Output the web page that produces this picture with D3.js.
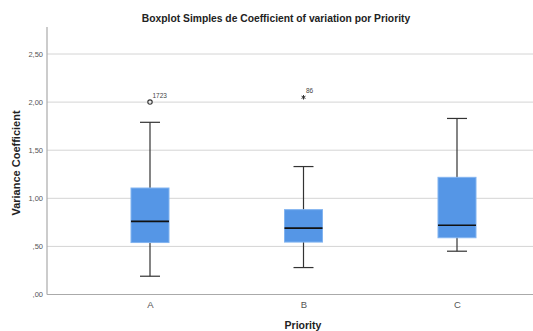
<!DOCTYPE html>
<html>
<head>
<meta charset="utf-8">
<script src="https://cdn.jsdelivr.net/npm/d3@7"></script>
<style>
  html, body { margin: 0; padding: 0; background: #fff; }
  svg { display: block; font-family: Arial, "Liberation Sans", sans-serif; }
</style>
</head>
<body>
<svg id="chart" width="533" height="331"></svg>
<script>
// Box statistics per priority group
const categories = ["A", "B", "C"];
const lowerWhisker = [0.19, 0.28, 0.45];
const q1 = [0.54, 0.545, 0.59];
const median = [0.76, 0.69, 0.72];
const q3 = [1.107, 0.882, 1.218];
const upperWhisker = [1.79, 1.33, 1.83];

// Outliers: mild (circle) and extreme (star), with case labels
const outlierCategory = ["A", "B"];
const outlierValue = [2.0, 2.05];
const outlierKind = ["mild", "extreme"];
const outlierLabel = ["1723", "86"];

const yTicks = [0, 0.5, 1.0, 1.5, 2.0, 2.5];

(function () {
const svg = d3.select("#chart");
const W = 533;
const plotLeft = 47, plotBottom = 294.5, plotTop = 27;

const y = d3.scaleLinear().domain([0, 2.5]).range([plotBottom, 54]);
const x = d3.scalePoint().domain(categories).range([150, 457]);

const fmt = v => {
  const s = d3.format(".2f")(v).replace(".", ",");
  return v < 1 ? s.replace(/^0/, "") : s;
};

// Title
svg.append("text")
  .attr("x", 276).attr("y", 22)
  .attr("text-anchor", "middle")
  .attr("font-size", 10.3).attr("font-weight", "bold")
  .attr("fill", "#222")
  .text("Boxplot Simples de Coefficient of variation por Priority");

// Gridlines
svg.append("g").selectAll("line")
  .data(yTicks.filter(d => d > 0))
  .join("line")
  .attr("x1", plotLeft).attr("x2", W)
  .attr("y1", d => y(d)).attr("y2", d => y(d))
  .attr("stroke", "#d4d4d4").attr("stroke-width", 1);

// Y axis
const yAxis = d3.axisLeft(y).tickValues(yTicks).tickFormat(fmt).tickSize(0).tickPadding(4);
const gy = svg.append("g").attr("transform", `translate(${plotLeft},0)`).call(yAxis);
gy.select(".domain").remove();
gy.selectAll("text").attr("font-size", 7.5).attr("fill", "#555").attr("font-family", "Arial, 'Liberation Sans', sans-serif");
svg.append("line")
  .attr("x1", plotLeft).attr("x2", plotLeft).attr("y1", plotTop).attr("y2", plotBottom)
  .attr("stroke", "#aaa").attr("stroke-width", 1.2);

// X axis
const xAxis = d3.axisBottom(x).tickSize(0).tickPadding(7);
const gx = svg.append("g").attr("transform", `translate(0,${plotBottom})`).call(xAxis);
gx.select(".domain").remove();
gx.selectAll("text").attr("font-size", 9.5).attr("fill", "#555").attr("font-family", "Arial, 'Liberation Sans', sans-serif");
svg.append("line")
  .attr("x1", plotLeft).attr("x2", W).attr("y1", plotBottom).attr("y2", plotBottom)
  .attr("stroke", "#aaa").attr("stroke-width", 1.2);

// Axis titles
svg.append("text")
  .attr("transform", `translate(20,163) rotate(-90)`)
  .attr("text-anchor", "middle")
  .attr("font-size", 11).attr("font-weight", "bold").attr("fill", "#222")
  .text("Variance Coefficient");
svg.append("text")
  .attr("x", 303).attr("y", 328.5)
  .attr("text-anchor", "middle")
  .attr("font-size", 10.5).attr("font-weight", "bold").attr("fill", "#222")
  .text("Priority");

// Boxes
const boxW = 38, capW = 20;
const boxes = categories.map((c, i) => ({
  c, lo: lowerWhisker[i], q1: q1[i], med: median[i], q3: q3[i], hi: upperWhisker[i]
}));
const g = svg.append("g").selectAll("g").data(boxes).join("g");

g.append("line")
  .attr("x1", d => x(d.c)).attr("x2", d => x(d.c))
  .attr("y1", d => y(d.hi)).attr("y2", d => y(d.lo))
  .attr("stroke", "#333").attr("stroke-width", 1.2);
g.append("line")
  .attr("x1", d => x(d.c) - capW / 2).attr("x2", d => x(d.c) + capW / 2)
  .attr("y1", d => y(d.hi)).attr("y2", d => y(d.hi))
  .attr("stroke", "#333").attr("stroke-width", 1.2);
g.append("line")
  .attr("x1", d => x(d.c) - capW / 2).attr("x2", d => x(d.c) + capW / 2)
  .attr("y1", d => y(d.lo)).attr("y2", d => y(d.lo))
  .attr("stroke", "#333").attr("stroke-width", 1.2);
g.append("rect")
  .attr("x", d => x(d.c) - boxW / 2).attr("width", boxW)
  .attr("y", d => y(d.q3)).attr("height", d => y(d.q1) - y(d.q3))
  .attr("fill", "#5596e6").attr("stroke", "#82b4f0").attr("stroke-width", 1);
g.append("line")
  .attr("x1", d => x(d.c) - boxW / 2).attr("x2", d => x(d.c) + boxW / 2)
  .attr("y1", d => y(d.med)).attr("y2", d => y(d.med))
  .attr("stroke", "#111").attr("stroke-width", 1.6);

// Outliers
const outliers = outlierCategory.map((c, i) => ({ c, v: outlierValue[i], kind: outlierKind[i], label: outlierLabel[i] }));
const og = svg.append("g").selectAll("g").data(outliers).join("g");
og.filter(d => d.kind === "mild").append("circle")
  .attr("cx", d => x(d.c)).attr("cy", d => y(d.v)).attr("r", 2.2)
  .attr("fill", "none").attr("stroke", "#333").attr("stroke-width", 1.1);
og.filter(d => d.kind === "extreme").append("path")
  .attr("transform", d => `translate(${x(d.c)},${y(d.v)})`)
  .attr("d", d3.symbol(d3.symbolAsterisk, 14))
  .attr("fill", "none").attr("stroke", "#333").attr("stroke-width", 1);
og.append("text")
  .attr("x", d => x(d.c) + 2.5).attr("y", d => y(d.v) - 4)
  .attr("font-size", 6.5).attr("fill", "#444")
  .text(d => d.label);
})();
</script>
</body>
</html>
